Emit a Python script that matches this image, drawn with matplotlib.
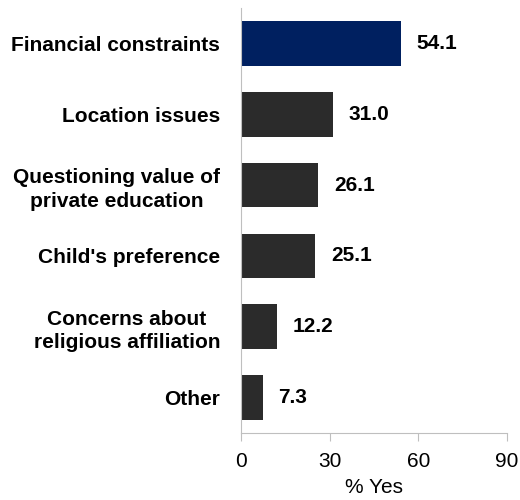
import matplotlib
matplotlib.use("Agg")
from matplotlib import pyplot as plt

plt.rcParams["font.family"] = ["Liberation Sans", "DejaVu Sans"]

categories = [
    "Financial constraints",
    "Location issues",
    "Questioning value of\nprivate education",
    "Child's preference",
    "Concerns about\nreligious affiliation",
    "Other",
]
values = [54.1, 31.0, 26.1, 25.1, 12.2, 7.3]
colors = ["#002060", "#2b2b2b", "#2b2b2b", "#2b2b2b", "#2b2b2b", "#2b2b2b"]

fig = plt.figure(figsize=(5.2, 5.0), dpi=100)
ax = fig.add_axes([0.4635, 0.134, 0.5115, 0.85])

pos = list(range(len(categories)))[::-1]
bars = ax.barh(pos, values, height=0.63, color=colors)

# value labels next to each bar
for b, v in zip(bars, values):
    ax.text(v + 5.3, b.get_y() + b.get_height() / 2, f"{v:.1f}",
            va="center", ha="left", fontsize=15, fontweight="bold")

ax.set_yticks(pos)
ax.set_yticklabels(categories, fontsize=15, fontweight="bold",
                   linespacing=1.3, multialignment="center")
ax.set_ylim(-0.5, 5.5)
ax.set_xlim(0, 90)
ax.set_xticks([0, 30, 60, 90])
ax.tick_params(axis="x", labelsize=15, color="#bfbfbf", length=6, pad=8)
ax.tick_params(axis="y", length=0, pad=15)
ax.set_xlabel("% Yes", fontsize=15, labelpad=5)

for s in ["top", "right"]:
    ax.spines[s].set_visible(False)
ax.spines["left"].set_color("#bfbfbf")
ax.spines["bottom"].set_color("#bfbfbf")

plt.savefig("out.png")
